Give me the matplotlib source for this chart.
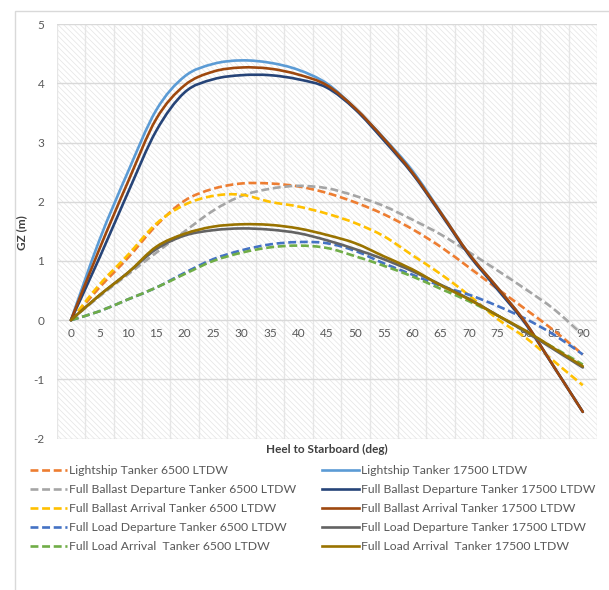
import numpy as np
import matplotlib
matplotlib.use("Agg")
import matplotlib.pyplot as plt
from matplotlib.patches import Rectangle, PathPatch
from matplotlib.path import Path
from matplotlib.lines import Line2D

plt.rcParams['font.family'] = ['Lato', 'DejaVu Sans']
plt.rcParams['axes.unicode_minus'] = False
plt.rcParams['hatch.linewidth'] = 0.5

heel = [0, 5, 10, 15, 20, 25, 30, 35, 40, 45, 50, 55, 60, 65, 70, 75, 80, 85, 90]

lightship_6500 = [0, 0.55, 1.05, 1.6, 2.02, 2.22, 2.31, 2.31, 2.26, 2.15, 1.99, 1.79, 1.54, 1.24, 0.89, 0.53, 0.18, -0.18, -0.58]
fbd_6500 = [0, 0.4, 0.77, 1.14, 1.5, 1.85, 2.1, 2.22, 2.27, 2.23, 2.1, 1.93, 1.7, 1.45, 1.15, 0.84, 0.52, 0.18, -0.25]
fba_6500 = [0, 0.6, 1.1, 1.63, 1.95, 2.1, 2.12, 2.0, 1.92, 1.8, 1.64, 1.42, 1.1, 0.78, 0.42, 0.02, -0.3, -0.7, -1.1]
fld_6500 = [0, 0.15, 0.35, 0.55, 0.8, 1.03, 1.18, 1.28, 1.32, 1.3, 1.17, 0.96, 0.77, 0.58, 0.43, 0.24, 0.02, -0.25, -0.58]
fla_6500 = [0, 0.15, 0.35, 0.55, 0.78, 1.0, 1.14, 1.23, 1.26, 1.22, 1.08, 0.92, 0.74, 0.53, 0.32, 0.08, -0.2, -0.47, -0.75]

lightship_17500 = [0, 1.35, 2.5, 3.55, 4.12, 4.33, 4.39, 4.35, 4.23, 4.0, 3.58, 3.08, 2.53, 1.83, 1.12, 0.55, -0.05, -0.8, -1.55]
fbd_17500 = [0, 1.05, 2.15, 3.2, 3.85, 4.07, 4.14, 4.14, 4.07, 3.93, 3.56, 3.04, 2.48, 1.8, 1.1, 0.52, -0.07, -0.8, -1.55]
fba_17500 = [0, 1.2, 2.33, 3.4, 3.97, 4.2, 4.27, 4.25, 4.15, 3.97, 3.58, 3.07, 2.5, 1.82, 1.12, 0.55, -0.05, -0.8, -1.55]
fld_17500 = [0, 0.42, 0.8, 1.2, 1.43, 1.52, 1.55, 1.53, 1.47, 1.35, 1.2, 1.03, 0.83, 0.6, 0.36, 0.08, -0.2, -0.5, -0.8]
fla_17500 = [0, 0.42, 0.8, 1.24, 1.46, 1.58, 1.62, 1.61, 1.55, 1.44, 1.3, 1.08, 0.86, 0.59, 0.35, 0.08, -0.18, -0.48, -0.78]

labels_6500 = ["Lightship Tanker 6500 LTDW", "Full Ballast Departure Tanker 6500 LTDW",
               "Full Ballast Arrival Tanker 6500 LTDW", "Full Load Departure Tanker 6500 LTDW",
               "Full Load Arrival  Tanker 6500 LTDW"]
labels_17500 = ["Lightship Tanker 17500 LTDW", "Full Ballast Departure Tanker 17500 LTDW",
                "Full Ballast Arrival Tanker 17500 LTDW", "Full Load Departure Tanker 17500 LTDW",
                "Full Load Arrival  Tanker 17500 LTDW"]
colors_6500 = ["#ED7D31", "#A5A5A5", "#FFC000", "#4472C4", "#70AD47"]
colors_17500 = ["#5B9BD5", "#264478", "#9E480E", "#636363", "#997300"]

series_6500 = [lightship_6500, fbd_6500, fba_6500, fld_6500, fla_6500]
series_17500 = [lightship_17500, fbd_17500, fba_17500, fld_17500, fla_17500]

DASH = (0, (3.0, 1.4))
LW = 1.9


def smooth_path(xs, ys):
    """Excel-style smoothed line: Catmull-Rom segments drawn as cubic Beziers."""
    p = np.column_stack([xs, ys]).astype(float)
    n = len(p)
    verts = [p[0]]
    codes = [Path.MOVETO]
    for i in range(n - 1):
        p0 = p[i - 1] if i > 0 else p[i]
        p1, p2 = p[i], p[i + 1]
        p3 = p[i + 2] if i + 2 < n else p[i + 1]
        c1 = p1 + (p2 - p0) / 6.0
        c2 = p2 - (p3 - p1) / 6.0
        verts += [c1, c2, p2]
        codes += [Path.CURVE4] * 3
    return Path(verts, codes)


W, H = 609, 590
fig = plt.figure(figsize=(W / 100, H / 100), dpi=100)

fig.patches.append(Rectangle((15 / W, -0.1), 1.2, 1 - 11 / H + 0.1, transform=fig.transFigure,
                             fill=False, edgecolor="#d9d9d9", linewidth=1.0))

left, right, top, bottom = 56.7, 597, 24.3, 438.5
ax = fig.add_axes([left / W, 1 - bottom / H, (right - left) / W, (bottom - top) / H])
ax.set_xlim(-2.5, 92.5)
ax.set_ylim(-2, 5)
ax.set_facecolor("white")
ax.add_patch(Rectangle((0, 0), 1, 1, transform=ax.transAxes, facecolor="white",
                       edgecolor="#e4e4e4", hatch="\\" * 6, linewidth=0, zorder=0))

for s in ax.spines.values():
    s.set_visible(False)

ax.set_yticks(np.arange(-2, 6, 1))
ax.set_yticklabels([str(v) for v in range(-2, 6)])
ax.set_xticks(np.arange(0, 91, 5))
ax.set_xticklabels([str(v) for v in range(0, 91, 5)])
ax.set_xticks(np.arange(-2.5, 92.6, 2.5), minor=True)
ax.spines['bottom'].set_position(('data', 0))
ax.tick_params(axis='both', which='both', length=0, colors="#595959", labelsize=8.5)
ax.tick_params(axis='x', pad=6)
ax.tick_params(axis='y', pad=9)
ax.grid(True, axis='y', which='major', color="#d9d9d9", linewidth=1.0, zorder=1)
ax.grid(True, axis='x', which='minor', color="#e6e6e6", linewidth=1.0, zorder=1)
ax.set_axisbelow(True)

handles_6500 = []
for ys, c, lab in zip(series_6500, colors_6500, labels_6500):
    ax.add_patch(PathPatch(smooth_path(heel, ys), fill=False, edgecolor=c, linewidth=LW,
                           linestyle=DASH, capstyle='butt', zorder=3))
    handles_6500.append(Line2D([], [], color=c, linewidth=LW, linestyle=DASH))
handles_17500 = []
for ys, c, lab in zip(series_17500, colors_17500, labels_17500):
    ax.add_patch(PathPatch(smooth_path(heel, ys), fill=False, edgecolor=c, linewidth=LW,
                           linestyle='-', capstyle='round', joinstyle='round', zorder=3))
    handles_17500.append(Line2D([], [], color=c, linewidth=LW, linestyle='-'))

fig.text(327 / W, 1 - 449 / H, "Heel to Starboard (deg)", ha='center', va='center',
         fontsize=8.5, fontweight='bold', color="#404040")
fig.text(22 / W, 1 - 233 / H, "GZ (m)", ha='center', va='center', rotation=90,
         fontsize=8.5, fontweight='bold', color="#404040")

leg_kw = dict(frameon=False, fontsize=8.8, handlelength=3.0, handletextpad=0.2,
              labelspacing=0.66, borderpad=0, borderaxespad=0, labelcolor="#595959", loc='upper left')
fig.legend(handles_6500, labels_6500, bbox_to_anchor=(30 / W, 1 - 465 / H), **leg_kw)
fig.legend(handles_17500, labels_17500, bbox_to_anchor=(322 / W, 1 - 465 / H), **leg_kw)

fig.savefig("out.png", dpi=100)
